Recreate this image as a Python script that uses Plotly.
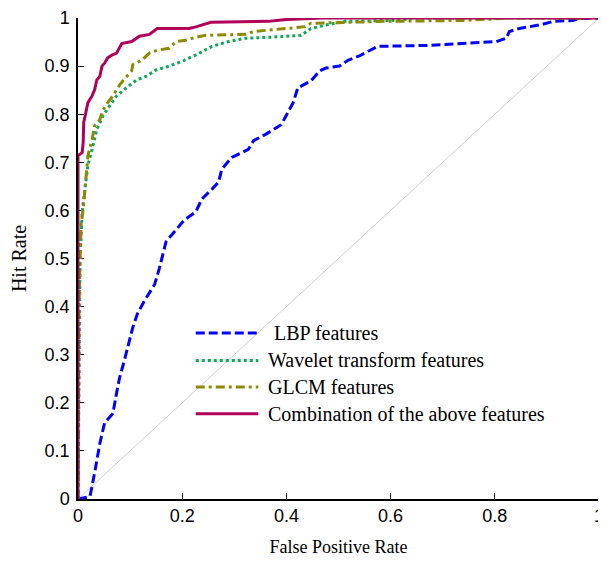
import plotly.graph_objects as go

lbp_x = [0, 0.023, 0.032, 0.042, 0.051, 0.067, 0.074, 0.080, 0.089, 0.099, 0.105, 0.114, 0.127, 0.147, 0.156,
         0.169, 0.188, 0.204, 0.226, 0.238, 0.257, 0.270, 0.276, 0.295, 0.314, 0.327, 0.337, 0.360, 0.390, 0.400,
         0.413, 0.422, 0.447, 0.464, 0.476, 0.502, 0.518, 0.540, 0.575, 0.670, 0.765, 0.803, 0.822, 0.828, 0.847,
         0.892, 0.912, 0.950, 0.961, 1.0]
lbp_y = [0, 0.005, 0.055, 0.116, 0.158, 0.178, 0.220, 0.253, 0.288, 0.329, 0.356, 0.385, 0.411, 0.446, 0.479,
         0.535, 0.560, 0.580, 0.597, 0.624, 0.644, 0.659, 0.686, 0.710, 0.720, 0.727, 0.745, 0.758, 0.778, 0.797,
         0.824, 0.855, 0.869, 0.890, 0.896, 0.900, 0.912, 0.921, 0.941, 0.943, 0.949, 0.951, 0.958, 0.972, 0.978,
         0.987, 0.993, 0.995, 0.999, 1.0]

wav_x = [0, 0.003, 0.004, 0.008, 0.013, 0.019, 0.027, 0.036, 0.048, 0.061, 0.074, 0.093, 0.112, 0.131, 0.150,
         0.175, 0.200, 0.226, 0.257, 0.289, 0.322, 0.371, 0.428, 0.447, 0.474, 0.512, 0.613, 0.65, 1.0]
wav_y = [0, 0.45, 0.50, 0.597, 0.638, 0.694, 0.727, 0.768, 0.797, 0.817, 0.838, 0.855, 0.871, 0.879, 0.892,
         0.900, 0.910, 0.923, 0.941, 0.951, 0.958, 0.960, 0.964, 0.978, 0.985, 0.993, 0.995, 1.0, 1.0]

glcm_x = [0, 0.002, 0.004, 0.006, 0.010, 0.013, 0.017, 0.019, 0.027, 0.032, 0.042, 0.048, 0.057, 0.067, 0.076,
          0.086, 0.103, 0.105, 0.122, 0.137, 0.152, 0.175, 0.188, 0.204, 0.226, 0.245, 0.322, 0.337, 0.398, 0.436,
          0.447, 0.512, 0.588, 0.740, 0.83, 1.0]
glcm_y = [0, 0.40, 0.50, 0.57, 0.603, 0.644, 0.686, 0.714, 0.747, 0.776, 0.789, 0.809, 0.824, 0.838, 0.855,
          0.869, 0.890, 0.903, 0.912, 0.927, 0.933, 0.937, 0.951, 0.953, 0.960, 0.964, 0.966, 0.972, 0.978, 0.982,
          0.989, 0.991, 0.993, 0.995, 1.0, 1.0]

comb_x = [0, 0, 0.008, 0.010, 0.011, 0.015, 0.019, 0.027, 0.032, 0.036, 0.042, 0.046, 0.051, 0.057, 0.065,
          0.074, 0.080, 0.084, 0.103, 0.118, 0.137, 0.152, 0.213, 0.228, 0.255, 0.365, 0.400, 0.470, 1.0]
comb_y = [0, 0.714, 0.72, 0.742, 0.783, 0.803, 0.824, 0.838, 0.851, 0.871, 0.879, 0.900, 0.906, 0.917, 0.923,
          0.927, 0.941, 0.947, 0.951, 0.962, 0.966, 0.978, 0.978, 0.982, 0.991, 0.993, 0.997, 1.0, 1.0]

chance_x = [0, 1]
chance_y = [0, 1]

names = ["LBP features", "Wavelet transform features", "GLCM features", "Combination of the above features"]
colors = ["#0000FF", "#12A85A", "#8C8A00", "#B0005A"]
dashes = ["9px,4px", "3px,3px", "9px,4px,3px,4px", "solid"]

series = [(lbp_x, lbp_y), (wav_x, wav_y), (glcm_x, glcm_y), (comb_x, comb_y)]

SERIF = "Liberation Serif, Times New Roman, serif"
SANS = "Liberation Sans, Arial, sans-serif"

fig = go.Figure()
fig.add_trace(go.Scatter(x=chance_x, y=chance_y, mode="lines",
                         line=dict(color="#D0D0D0", width=1), showlegend=False, hoverinfo="skip"))
for (sx, sy), nm, c, d in zip(series, names, colors, dashes):
    fig.add_trace(go.Scatter(x=sx, y=sy, mode="lines", name=nm,
                             line=dict(color=c, width=3, dash=d), showlegend=False))

# manual legend (in data coordinates of the 0-1 axes)
leg_y = [0.345, 0.288, 0.233, 0.177]
leg_x0, leg_x1, txt_x = 0.226, 0.346, 0.360
for i, (nm, c, d) in enumerate(zip(names, colors, dashes)):
    fig.add_shape(type="line", x0=leg_x0, x1=leg_x1, y0=leg_y[i], y1=leg_y[i], xref="x", yref="y",
                  line=dict(color=c, width=3, dash=d))
    fig.add_annotation(x=txt_x + (0.013 if i == 0 else 0), y=leg_y[i], xref="x", yref="y",
                       text=nm, showarrow=False, xanchor="left", yanchor="middle",
                       font=dict(family=SERIF, size=20, color="black"))

fig.update_layout(
    width=598, height=553,
    margin=dict(l=70, r=7, t=10, b=62),
    plot_bgcolor="white", paper_bgcolor="white",
    showlegend=False,
)
fig.update_xaxes(range=[0, 1], tickvals=[0, 0.2, 0.4, 0.6, 0.8, 1],
                 ticktext=["0", "0.2", "0.4", "0.6", "0.8", "1"], automargin=False,
                 ticklabeloverflow="allow",
                 showline=True, linecolor="black", linewidth=1.5, ticks="inside", ticklen=6,
                 tickcolor="black", showgrid=False, zeroline=False, layer="below traces",
                 tickfont=dict(family=SANS, size=18, color="black"),
                 title=dict(text="False Positive Rate",
                            font=dict(family=SERIF, size=18, color="black")))
fig.update_yaxes(range=[0, 1], tickvals=[i / 10 for i in range(11)],
                 ticktext=["0"] + [f"0.{i}" for i in range(1, 10)] + ["1"], automargin=False,
                 ticklabelstandoff=3, ticklabeloverflow="allow",
                 showline=True, linecolor="black", linewidth=1.5, ticks="inside", ticklen=6,
                 tickcolor="black", showgrid=False, zeroline=False, layer="below traces",
                 tickfont=dict(family=SANS, size=18, color="black"),
                 title=dict(text="Hit Rate",
                            font=dict(family=SERIF, size=20, color="black")))

fig.write_html("out.html")
